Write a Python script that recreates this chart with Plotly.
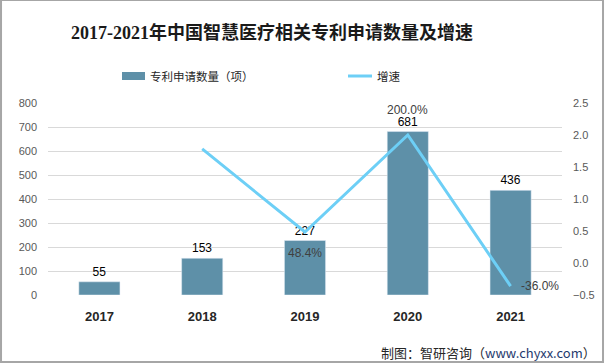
import plotly.graph_objects as go

years = ["2017", "2018", "2019", "2020", "2021"]
patents = [55, 153, 227, 681, 436]
growth = [None, 1.782, 0.484, 2.0, -0.36]
growth_labels = ["", "", "48.4%", "200.0%", "-36.0%"]
label_xshift = [0, 0, 0, 0, 29]
label_yshift = [0, 0, -21, 25, 0]

BAR = "#5E90A8"
LINE = "#6DCFF6"
CJK = "Noto Sans CJK SC, Microsoft YaHei, sans-serif"
NUM = "Liberation Sans, Arial, sans-serif"

fig = go.Figure()
fig.add_trace(go.Bar(
    x=years, y=patents, name="专利申请数量（项）",
    marker=dict(color=BAR), width=0.4,
    text=[str(v) for v in patents], textposition="outside",
    textfont=dict(family=NUM, size=12, color="#000000"),
    cliponaxis=False,
))
fig.add_trace(go.Scatter(
    x=years, y=growth, name="增速", yaxis="y2",
    mode="lines", line=dict(color=LINE, width=3),
    cliponaxis=False,
))

annotations = []
for i, (g, t, xs, ys) in enumerate(zip(growth, growth_labels, label_xshift, label_yshift)):
    if t:
        annotations.append(dict(x=i, y=g, xref="x", yref="y2", text=t, showarrow=False,
                                xshift=xs, yshift=ys,
                                font=dict(family=NUM, size=12, color="#404040")))

# custom legend
annotations += [
    dict(text="专利申请数量（项）", xref="paper", yref="paper", x=0.1946, y=1.1406,
         xanchor="left", yanchor="middle", showarrow=False,
         font=dict(family=CJK, size=11.5, color="#262626")),
    dict(text="增速", xref="paper", yref="paper", x=0.636, y=1.1406,
         xanchor="left", yanchor="middle", showarrow=False,
         font=dict(family=CJK, size=11.5, color="#262626")),
    dict(text="制图：智研咨询（<span style='color:#1f3a6e'>www.chyxx.com</span>）",
         xref="paper", yref="paper", x=1.07, y=-0.297, xanchor="right", yanchor="middle",
         showarrow=False, font=dict(family=CJK, size=13, color="#262626")),
]

fig.update_layout(
    width=605, height=364,
    margin=dict(l=48, r=43, t=103, b=69, autoexpand=False),
    paper_bgcolor="white", plot_bgcolor="white",
    font=dict(family=CJK, color="#595959"),
    title=dict(text="<b>2017-2021年中国智慧医疗相关专利申请数量及增速</b>",
               xref="paper", x=0.436, xanchor="center", y=0.909, yanchor="middle",
               font=dict(family="Liberation Serif, Noto Sans CJK SC, serif", size=18, color="#1a1a1a")),
    showlegend=False,
    xaxis=dict(type="category", range=[-0.5, len(years) - 0.5], showgrid=False, showline=False, ticks="",
               ticklabelstandoff=12,
               tickfont=dict(family=NUM, size=13, color="#262626", weight="bold")),
    yaxis=dict(range=[0, 800], dtick=100, showgrid=True, gridcolor="#d9d9d9", gridwidth=1,
               zeroline=False, showline=False, ticks="", ticklabelstandoff=10,
               tickfont=dict(family=NUM, size=11, color="#595959")),
    yaxis2=dict(range=[-0.5, 2.5], dtick=0.5, tickformat=".1f", overlaying="y", side="right",
                showgrid=False, zeroline=False, showline=False, ticks="", ticklabelstandoff=10,
                tickfont=dict(family=NUM, size=11, color="#595959")),
    shapes=[
        dict(type="rect", xref="paper", yref="paper",
             x0=-0.0914, x1=1.0798, y0=-0.349, y1=1.536,
             line=dict(color="#a6a6a6", width=2), fillcolor="rgba(0,0,0,0)", layer="below"),
        dict(type="rect", xref="paper", yref="paper",
             x0=0.144, x1=0.1887, y0=1.1198, y1=1.1615,
             line=dict(width=0), fillcolor=BAR),
        dict(type="line", xref="paper", yref="paper",
             x0=0.5837, x1=0.6304, y0=1.1406, y1=1.1406,
             line=dict(color=LINE, width=3)),
    ],
    annotations=annotations,
)

fig.write_html("out.html", config={"displayModeBar": False},
               post_script="document.body.style.margin='0';document.body.style.overflow='hidden';")
